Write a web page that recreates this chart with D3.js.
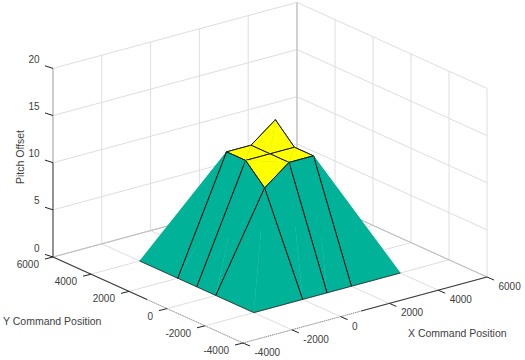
<!DOCTYPE html>
<html>
<head>
<meta charset="utf-8">
<script src="https://cdn.jsdelivr.net/npm/d3@7/dist/d3.min.js"></script>
<style>
html,body{margin:0;padding:0;background:#fff}
svg{display:block}
text{font-family:"Liberation Sans",Arial,sans-serif;fill:#404040}
</style>
</head>
<body>
<svg id="c" width="525" height="360"></svg>
<script>
const xGrid = [-2000, 0, 1000, 2000, 4000];
const yGrid = [-2000, 0, 1000, 2000, 4000];
const zValues = [
  [0, 0, 0, 0, 0],
  [0, 10, 12, 12, 0],
  [0, 12, 12, 12, 0],
  [0, 12, 12, 14, 0],
  [0, 0, 0, 0, 0]
];
const xTicks = [-4000, -2000, 0, 2000, 4000, 6000];
const yTicks = [-4000, -2000, 0, 2000, 4000, 6000];
const zTicks = [0, 5, 10, 15, 20];
const xTitle = "X Command Position";
const yTitle = "Y Command Position";
const zTitle = "Pitch Offset";

const svg = d3.select("#c");
const xU = d3.scaleLinear().domain([-4000, 6000]).range([0, 1]);
const yV = d3.scaleLinear().domain([-4000, 6000]).range([0, 1]);
const zH = d3.scaleLinear().domain([0, 20]).range([0, 188.6]);
const P = (x, y, z) => [243 + 244 * xU(x) - 190 * yV(y), 343 - 66 * xU(x) - 86 * yV(y) - zH(z)];
const far = d => 66 * xU(d[0]) + 86 * yV(d[1]) - zH(d[2]) * 0.5;

function seg(a, b, color, w, dash) {
  const [p, q] = [P(...a), P(...b)];
  const l = svg.append("line").attr("x1", p[0]).attr("y1", p[1]).attr("x2", q[0]).attr("y2", q[1])
    .attr("stroke", color).attr("stroke-width", w);
  if (dash) l.attr("stroke-dasharray", dash);
  return l;
}
const gridC = "#dedede", x0 = -4000, x1 = 6000, y0 = -4000, y1 = 6000, z1 = 20;

// grid
xTicks.forEach(x => { seg([x, y0, 0], [x, y1, 0], gridC, 1); seg([x, y1, 0], [x, y1, z1], gridC, 1); });
yTicks.forEach(y => { seg([x0, y, 0], [x1, y, 0], gridC, 1); seg([x1, y, 0], [x1, y, z1], gridC, 1); });
zTicks.forEach(z => { seg([x0, y1, z], [x1, y1, z], gridC, 1); seg([x1, y1, z], [x1, y0, z], gridC, 1); });
// back box edges
seg([x0, y1, 0], [x1, y1, 0], "#bdbdbd", 1);
seg([x1, y1, 0], [x1, y0, 0], "#bdbdbd", 1);
seg([x1, y1, 0], [x1, y1, z1], "#c4c4c4", 1.2);

// surface, painted back to front; each cell is two triangles, far one first
const color = d3.scaleThreshold().domain([5]).range(["#00b398", "#ffff00"]);
const line = d3.line();
const isOuter = (a, b) => a[2] === 0 && b[2] === 0;
for (let j = yGrid.length - 2; j >= 0; j--) {
  for (let i = xGrid.length - 2; i >= 0; i--) {
    const c = [[i, j], [i + 1, j], [i + 1, j + 1], [i, j + 1]]
      .map(([a, b]) => [xGrid[a], yGrid[b], zValues[b][a]]);
    const zs = c.map(d => d[2]);
    const top = zs.indexOf(d3.max(zs));
    const fill = color(d3.min(zs));
    const r = k => c[(top + k) % 4];
    const tris = [
      { pts: [r(0), r(1), r(2)], edges: [[r(0), r(1)], [r(1), r(2)]] },
      { pts: [r(0), r(2), r(3)], edges: [[r(2), r(3)], [r(3), r(0)]] }
    ];
    tris.sort((a, b) => d3.mean(b.pts, far) - d3.mean(a.pts, far));
    tris.forEach(t => {
      svg.append("path").attr("d", line(t.pts.map(d => P(...d))) + "Z")
        .attr("fill", fill).attr("stroke", fill).attr("stroke-width", 0.4);
      t.edges.forEach(([a, b]) => seg(a, b, isOuter(a, b) ? "#333" : "#111", isOuter(a, b) ? 0.9 : 1));
    });
    // edges of the far triangle that the near one does not hide stay visible
  }
}

// axes
const dark = "#3a3a3a";
seg([x0, y1, 0], [x0, 1050, 0], dark, 1.1);
seg([x0, 1050, 0], [x0, y0, 0], "#8a8a8a", 1, "1,1");
seg([x0, y0, 0], [840, y0, 0], "#8a8a8a", 1, "1,1");
seg([840, y0, 0], [x1, y0, 0], dark, 1.1);
seg([x0, y1, 0], [x0, y1, 10], "#555", 1.2);
seg([x0, y1, 10], [x0, y1, z1], "#b5b5b5", 1.2);

function tick(p, dx, dy) {
  svg.append("line").attr("x1", p[0]).attr("y1", p[1]).attr("x2", p[0] + dx).attr("y2", p[1] + dy)
    .attr("stroke", "#222").attr("stroke-width", 1);
}
function label(p, str, anchor, size) {
  svg.append("text").attr("x", p[0]).attr("y", p[1]).attr("text-anchor", anchor)
    .attr("dominant-baseline", "central").attr("font-size", size).text(str);
}
zTicks.forEach(z => {
  const p = P(x0, y1, z);
  tick(p, -8, -2.6);
  label([p[0] - 13.5, p[1] - 9], z, "end", 10);
});
yTicks.forEach(y => {
  const p = P(x0, y, 0);
  tick(p, -8, 2);
  label([p[0] - 14, p[1] + 7.5], y, "end", 10);
});
xTicks.forEach(x => {
  const p = P(x, y0, 0);
  tick(p, 7, 3);
  label([p[0] + 11.5, p[1] + 9.5], x, "start", 10);
});
label([3, 321], yTitle, "start", 10.5);
label([408, 333], xTitle, "start", 10.5);
svg.append("text").attr("transform", "translate(20,157) rotate(-90)").attr("text-anchor", "middle")
  .attr("dominant-baseline", "central").attr("font-size", 10.5).text(zTitle);
</script>
</body>
</html>
